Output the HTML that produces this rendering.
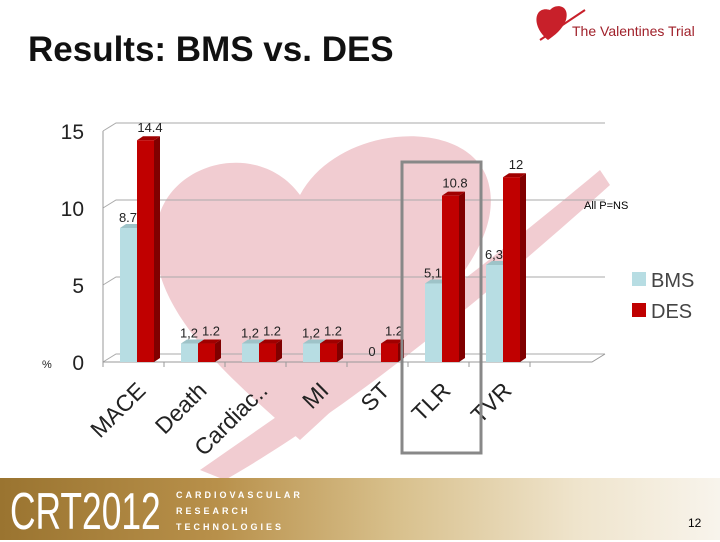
<!DOCTYPE html>
<html><head><meta charset="utf-8"><style>
body{margin:0;width:720px;height:540px;overflow:hidden;background:#fff;font-family:"Liberation Sans",sans-serif;position:relative}
#title{position:absolute;left:28px;top:30px;font-size:35px;font-weight:bold;color:#111}
#footer{position:absolute;left:0;top:478px;width:720px;height:62px;background:linear-gradient(90deg,#9a7430 0%,#b8904a 30%,#d8c08c 55%,#efe4cc 80%,#f8f4ec 100%)}
</style></head><body>
<div id="title">Results: BMS vs. DES</div>
<svg width="720" height="540" style="position:absolute;left:0;top:0">
<g id="bg" fill="#f1ccd1">
<path d="M300,440 C220,370 140,300 158,220 C172,160 260,140 300,195 C340,120 480,115 490,190 C500,255 420,330 300,440Z"/>
<path d="M200,470 C300,400 420,320 600,170 L610,185 C460,320 330,420 225,480Z"/>
</g>
<g id="grid"></g><g id="bars"></g><g id="labels"></g>
<rect x="402" y="162" width="79" height="291" fill="none" stroke="#888" stroke-width="3"/>
<text x="584" y="209" font-size="11">All P=NS</text>
<rect x="632" y="272" width="14" height="14" fill="#b7dde3"/>
<text x="651" y="287" font-size="20" fill="#444">BMS</text>
<rect x="632" y="303" width="14" height="14" fill="#c00000"/>
<text x="651" y="318" font-size="20" fill="#444">DES</text>
<g>
<path d="M548,40 C530,25 535,5 550,10 C556,3 570,5 566,20 C562,30 555,35 548,40Z" fill="#c8202a"/>
<path d="M540,40 L585,10" stroke="#c8202a" stroke-width="2"/>
<text x="572" y="36" font-size="14" fill="#a0202a">The Valentines Trial</text>
</g>
</svg>
<div id="footer">
<div style="position:absolute;left:10px;top:4px;font-size:52px;color:#fff;font-family:'Liberation Sans Narrow','Liberation Sans',sans-serif;transform:scaleX(0.68);transform-origin:left">CRT2012</div>
<div style="position:absolute;left:176px;top:9px;font-size:9px;color:#fff;letter-spacing:3px;line-height:16px;font-weight:bold">CARDIOVASCULAR<br>RESEARCH<br>TECHNOLOGIES</div>
<div style="position:absolute;left:688px;top:38px;font-size:12px">12</div>
</div>
<script>
const categories=["MACE","Death","Cardiac..","MI","ST","TLR","TVR"];
const bmsValues=[8.7,1.2,1.2,1.2,0,5.1,6.3];
const desValues=[14.4,1.2,1.2,1.2,1.2,10.8,12];
const bmsLabels=["8.7","1,2","1,2","1,2","0","5,1","6,3"];
const desLabels=["14.4","1.2","1.2","1.2","1.2","10.8","12"];
const yTicks=[0,5,10,15];
const NS="http://www.w3.org/2000/svg";
const x0=103,step=61,yBase=362,unit=15.4,dx=13,dy=8;
const y=v=>yBase-v*unit, xc=i=>x0+i*step;
function el(t,a,p){const e=document.createElementNS(NS,t);for(const k in a)e.setAttribute(k,a[k]);document.getElementById(p).appendChild(e);return e;}
yTicks.forEach(t=>{
 const g=el('path',{d:`M${x0},${y(t)} L${x0+dx},${y(t)-dy} L${605},${y(t)-dy}`,stroke:'#aaa',fill:'none'},'grid');
 
 
 const l=el('text',{x:84,y:y(t)+8,'font-size':21,'text-anchor':'end',fill:'#222'},'labels');l.textContent=t;
 
 
});
el('path',{d:`M${x0},${y(15)} L${x0},${yBase} L${592},${yBase} L${605},${yBase-dy}`,stroke:'#999',fill:'none'},'grid');
const pct=el('text',{x:42,y:368,'font-size':11,fill:'#222'},'labels');pct.textContent='%';


for(let i=0;i<=7;i++)el('line',{x1:xc(i),y1:yBase,x2:xc(i),y2:yBase+5,stroke:'#999'},'grid');
function bar(x,v,front,side,top,name){
 const yt=y(v),w=17,d=6,h=4;
 const g=el('g',{},'bars');
 
 
 if(v<=0)return;
 const mk=(t,a)=>{const e=document.createElementNS(NS,t);for(const k in a)e.setAttribute(k,a[k]);g.appendChild(e);};
 mk('path',{d:`M${x+w},${yt} L${x+w+d},${yt-h} L${x+w+d},${yBase-h} L${x+w},${yBase}Z`,fill:side});
 mk('path',{d:`M${x},${yt} L${x+d},${yt-h} L${x+w+d},${yt-h} L${x+w},${yt}Z`,fill:top});
 mk('rect',{x:x,y:yt,width:w,height:yBase-yt,fill:front});
}
categories.forEach((c,i)=>{
 const bx=xc(i)+17;
 bar(bx,bmsValues[i],'#b7dde3','#8fb8be','#9ec3c8','bar-bms-'+c);
 bar(bx+17,desValues[i],'#c00000','#800000','#a00000','bar-des-'+c);
 const a=el('text',{x:bx+8,y:y(bmsValues[i])-6,'font-size':13,'text-anchor':'middle',fill:'#222'},'labels');a.textContent=bmsLabels[i];
 
 
 const b=el('text',{x:bx+30,y:y(desValues[i])-8,'font-size':13,'text-anchor':'middle',fill:'#222'},'labels');b.textContent=desLabels[i];
 
 
 const cx=xc(i)+44,cy=392;
 const t=el('text',{x:cx,y:cy,'font-size':23,'text-anchor':'end',fill:'#222',transform:`rotate(-45 ${cx} ${cy})`},'labels');t.textContent=c;
 
 
});
</script>
</body></html>
